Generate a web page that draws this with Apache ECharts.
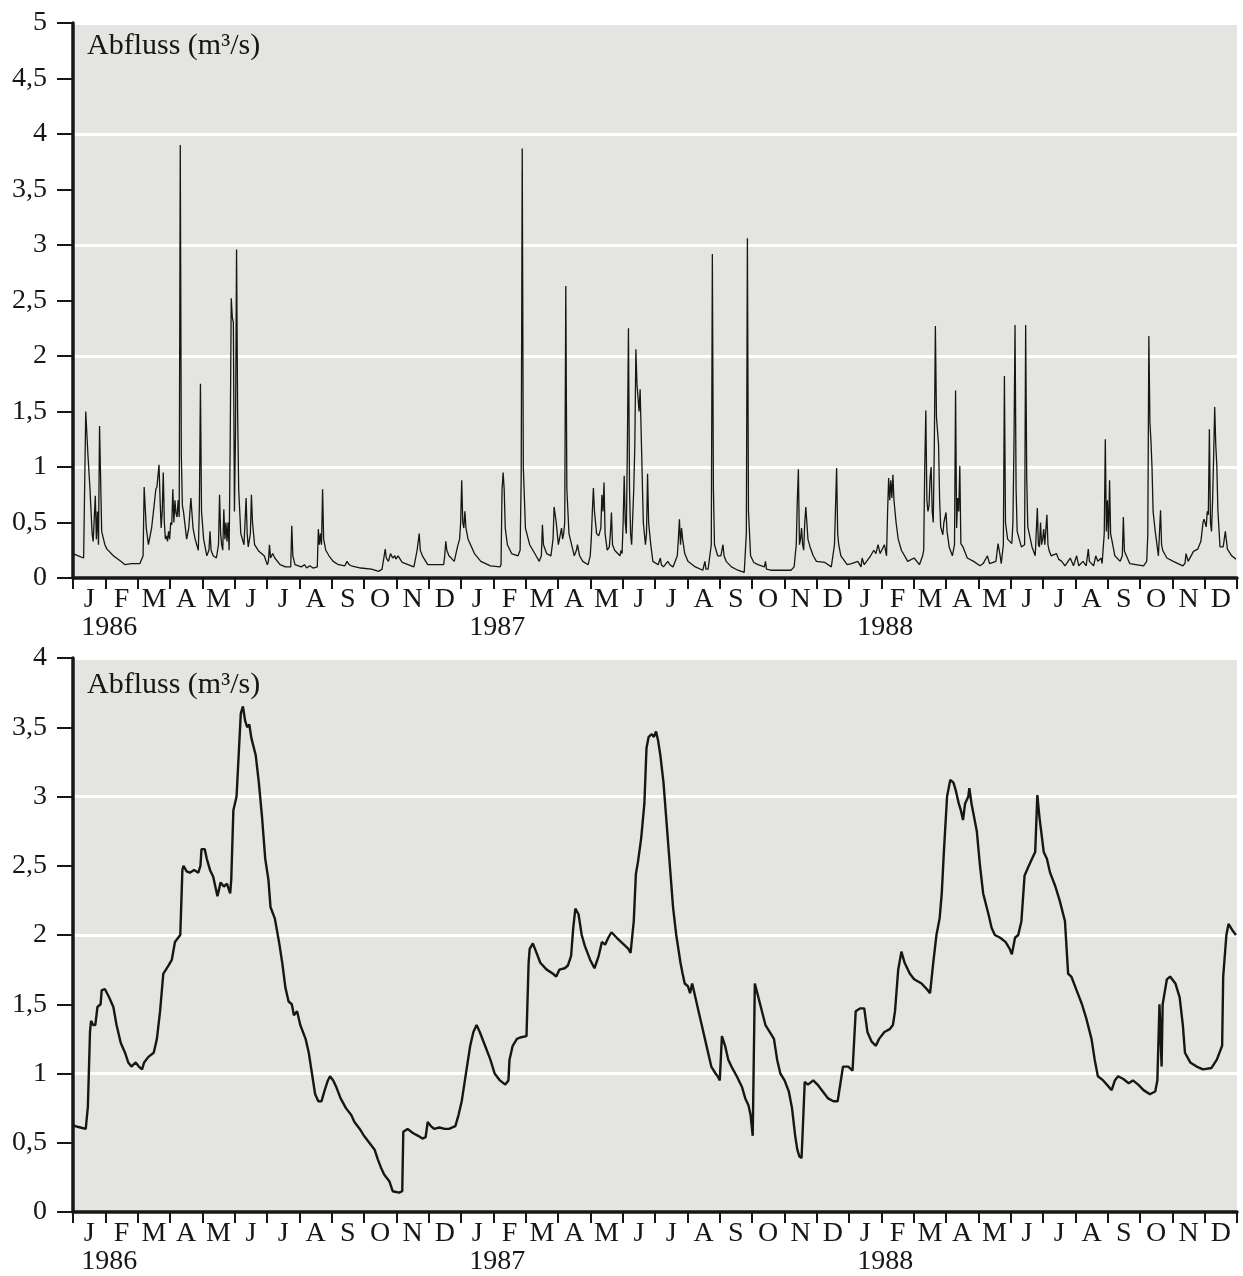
<!DOCTYPE html>
<html>
<head>
<meta charset="utf-8">
<script src="https://cdn.jsdelivr.net/npm/echarts@6/dist/echarts.min.js"></script>
<style>
html,body{margin:0;padding:0;background:#fff;}
#chart{width:1243px;height:1276px;}
</style>
</head>
<body>
<div id="chart"></div>
<script>
// Month letters (3 years), year labels, y title
const monthLetters = ['J','F','M','A','M','J','J','A','S','O','N','D',
                      'J','F','M','A','M','J','J','A','S','O','N','D',
                      'J','F','M','A','M','J','J','A','S','O','N','D'];
const yearLabels = ['1986','1987','1988'];
const yTitle = 'Abfluss (m³/s)';
const dayRange = [0, 1096]; // days since 1 Jan 1986

// Top panel: daily discharge [day since 1986-01-01, m3/s]
const dailyDischarge = [
[0,0.22],[5,0.2],[10,0.18],[11,0.19],[12,1.5],[14,1.12],[16,0.8],[18,0.4],[19,0.33],[21,0.74],[22,0.35],[23,0.6],[24,0.3],[25,1.37],[27,0.42],[30,0.3],[32,0.26],[38,0.2],[45,0.15],[49,0.12],[55,0.13],[63,0.13],[66,0.2],[67,0.82],[69,0.45],[71,0.3],[74,0.45],[76,0.62],[78,0.8],[79,0.82],[81,1.02],[82,0.7],[83,0.45],[84,0.6],[85,0.95],[86,0.5],[87,0.35],[88,0.38],[89,0.33],[90,0.42],[91,0.35],[92,0.5],[93,0.48],[94,0.8],[95,0.5],[96,0.7],[97,0.58],[98,0.55],[99,0.7],[100,0.55],[101,3.9],[102,1.1],[103,0.65],[104,0.6],[107,0.35],[109,0.45],[111,0.72],[113,0.45],[115,0.35],[118,0.25],[119,0.65],[120,1.75],[121,0.6],[123,0.35],[126,0.2],[128,0.25],[129,0.42],[130,0.25],[132,0.2],[135,0.18],[137,0.3],[138,0.75],[139,0.4],[140,0.3],[141,0.25],[142,0.62],[143,0.35],[144,0.5],[145,0.33],[146,0.5],[147,0.25],[148,1.2],[149,2.52],[150,2.35],[151,2.3],[152,0.6],[153,1.3],[154,2.96],[155,1.5],[156,0.8],[158,0.4],[161,0.3],[163,0.72],[164,0.4],[165,0.28],[167,0.4],[168,0.75],[169,0.5],[171,0.3],[175,0.24],[180,0.2],[183,0.12],[184,0.15],[185,0.3],[186,0.18],[188,0.22],[190,0.18],[195,0.12],[200,0.1],[205,0.1],[206,0.47],[207,0.2],[209,0.12],[215,0.1],[218,0.12],[220,0.09],[223,0.11],[226,0.09],[230,0.1],[231,0.44],[232,0.3],[233,0.4],[234,0.3],[235,0.8],[236,0.35],[238,0.25],[241,0.2],
[245,0.15],[250,0.12],[256,0.11],[258,0.15],[260,0.12],[262,0.11],[271,0.09],[281,0.08],[288,0.06],[291,0.08],[294,0.26],[295,0.18],[297,0.15],[299,0.22],[301,0.18],[303,0.2],[304,0.17],[306,0.2],[310,0.14],[321,0.1],[324,0.25],[326,0.4],[327,0.25],[329,0.2],[334,0.12],[349,0.12],[350,0.2],[351,0.33],[352,0.25],[354,0.2],[359,0.15],[362,0.28],[364,0.35],[365,0.5],[366,0.88],[367,0.5],[368,0.45],[369,0.6],[370,0.45],[372,0.35],[378,0.22],[384,0.15],[393,0.11],
[402,0.1],[403,0.12],[404,0.8],[405,0.95],[406,0.8],[407,0.45],[409,0.3],[413,0.22],[419,0.2],[421,0.25],[422,0.9],[423,3.87],[424,1.0],[426,0.45],[430,0.3],[436,0.2],[439,0.15],[441,0.2],[442,0.48],[443,0.3],[446,0.22],[450,0.2],[452,0.35],[453,0.64],[455,0.5],[456,0.4],[457,0.3],[458,0.35],[460,0.45],[461,0.35],[462,0.4],[463,0.5],[464,2.63],[465,0.8],[467,0.4],[472,0.2],[474,0.25],[475,0.3],[477,0.2],[480,0.15],[485,0.12],[487,0.2],[488,0.35],[489,0.6],[490,0.81],[491,0.6],[493,0.4],[495,0.38],[497,0.45],[498,0.75],[499,0.6],[500,0.86],[501,0.4],[503,0.25],[505,0.28],[506,0.4],[507,0.59],[508,0.3],[510,0.25],[515,0.2],[516,0.25],[517,0.22],[518,0.5],[519,0.92],[520,0.5],[521,0.4],[522,1.2],[523,2.25],[524,0.8],[525,0.4],[526,0.3],[527,0.3],[528,0.8],[529,1.2],[530,2.06],[531,1.75],[532,1.75],[533,1.5],[534,1.7],[535,1.3],[537,0.5],[539,0.3],[540,0.4],[541,0.94],[542,0.5],[544,0.3],[546,0.15],
[551,0.12],[553,0.18],[554,0.12],[556,0.1],[560,0.15],[562,0.12],[565,0.1],[569,0.2],[570,0.35],[571,0.53],[572,0.3],[573,0.45],[574,0.35],[576,0.22],[579,0.15],[586,0.1],[593,0.07],[595,0.15],[596,0.08],[598,0.08],
[601,0.3],[602,2.92],[603,0.8],[604,0.3],[607,0.2],[610,0.2],[612,0.3],[613,0.2],[615,0.15],[620,0.1],[626,0.07],[632,0.05],[634,0.4],[635,3.06],[636,0.6],[638,0.2],[641,0.14],[645,0.12],[651,0.1],[652,0.15],[653,0.08],[657,0.07],[676,0.07],[679,0.1],[681,0.3],[682,0.7],[683,0.98],[684,0.3],[685,0.35],[686,0.45],[687,0.3],[688,0.25],[689,0.5],[690,0.64],[692,0.35],[694,0.28],[697,0.2],[700,0.15],[708,0.14],[714,0.1],[717,0.3],[719,0.99],[720,0.4],[721,0.3],[723,0.2],[729,0.12],[733,0.13],[739,0.15],[742,0.1],[743,0.18],[745,0.12],[751,0.2],[754,0.25],[756,0.22],[758,0.3],[760,0.22],[764,0.3],[766,0.2],[767,0.6],[768,0.9],[769,0.7],[770,0.88],[771,0.72],[772,0.93],[773,0.7],[775,0.5],[777,0.35],[780,0.25],[786,0.15],[792,0.18],[797,0.12],[800,0.2],
[801,0.25],[802,1.0],[803,1.51],[804,0.7],[805,0.6],[806,0.65],[807,0.9],[808,1.0],[809,0.6],[810,0.5],[811,1.2],[812,2.27],[813,1.45],[814,1.45],[815,1.2],
[816,0.7],[817,0.46],[819,0.39],[820,0.5],[822,0.59],[823,0.42],[825,0.28],[828,0.2],[830,0.3],[831,1.69],[832,0.45],[833,0.72],[834,0.6],[835,1.01],[836,0.31],[838,0.28],[842,0.18],[848,0.15],
[854,0.11],[857,0.13],[861,0.2],[863,0.13],[869,0.15],[871,0.31],[873,0.2],[874,0.13],[876,0.3],[877,1.82],[878,0.5],[880,0.35],[884,0.31],[885,0.5],[886,1.2],[887,2.28],[888,0.8],[889,0.42],[893,0.28],[896,0.3],[897,2.28],[898,0.9],[899,0.46],[903,0.28],[906,0.2],[908,0.63],[909,0.3],[910,0.28],[911,0.5],[912,0.3],[913,0.35],[914,0.44],[915,0.3],[917,0.57],[918,0.3],[919,0.25],[921,0.2],[926,0.22],[928,0.17],[931,0.15],[934,0.11],[939,0.18],[942,0.11],[945,0.2],[947,0.11],[951,0.15],[954,0.11],[956,0.26],[957,0.15],[961,0.11],[963,0.2],[965,0.15],[968,0.18],[969,0.13],[971,0.4],[972,1.25],[973,0.42],[974,0.7],[975,0.35],[976,0.88],[977,0.4],[978,0.35],[981,0.2],[986,0.15],[988,0.2],[989,0.55],[990,0.24],[995,0.13],[1008,0.11],[1011,0.15],[1012,0.39],[1013,2.18],[1014,1.4],[1015,1.23],[1016,0.99],[1017,0.6],[1019,0.42],[1022,0.2],[1024,0.61],[1025,0.3],[1026,0.25],[1030,0.18],[1036,0.15],[1045,0.11],[1047,0.13],[1048,0.22],[1050,0.15],[1055,0.24],[1059,0.26],[1062,0.33],[1064,0.5],[1065,0.53],[1067,0.46],[1068,0.6],[1069,0.57],[1070,1.34],[1071,0.5],[1072,0.42],[1073,0.7],[1074,1.09],[1075,1.54],[1076,1.2],[1077,1.01],[1078,0.61],[1080,0.28],[1083,0.28],[1085,0.42],[1087,0.26],[1091,0.2],[1095,0.17]
];

// Bottom panel: discharge [day since 1986-01-01, m3/s]
const baseDischarge = [
[0,0.63],[2,0.62],[7,0.61],[12,0.6],[14,0.76],[16,1.3],[17,1.38],[19,1.35],[21,1.35],[23,1.48],[26,1.5],[27,1.6],[30,1.61],[34,1.55],[38,1.48],[41,1.35],[45,1.22],[49,1.15],[52,1.08],[55,1.05],[59,1.08],[62,1.05],[65,1.03],[67,1.08],[71,1.12],[76,1.15],[79,1.25],[82,1.45],[85,1.72],[90,1.78],[93,1.82],[96,1.95],[99,1.98],[101,2.0],[103,2.47],[104,2.5],[107,2.46],[110,2.45],[114,2.47],[118,2.45],[120,2.5],[121,2.62],[124,2.62],[126,2.55],[129,2.47],[132,2.42],[134,2.35],[136,2.28],[139,2.38],[142,2.35],[145,2.37],[148,2.3],[149,2.4],[151,2.9],[154,3.0],[156,3.3],[158,3.6],[160,3.65],[162,3.55],[164,3.5],[166,3.52],[168,3.42],[172,3.3],[175,3.1],[178,2.85],[181,2.55],[184,2.4],[186,2.2],[190,2.12],[194,1.95],[197,1.8],[200,1.62],[203,1.52],[206,1.5],[208,1.42],[211,1.45],[214,1.35],[219,1.25],[222,1.15],[225,1.0],[228,0.85],[231,0.8],[234,0.8],[237,0.88],[240,0.95],[242,0.98],[245,0.95],[248,0.9],[252,0.82],[257,0.75],[262,0.7],[265,0.65],[270,0.6],[274,0.55],[279,0.5],[284,0.45],[287,0.38],[290,0.32],[293,0.27],[298,0.22],[301,0.15],[307,0.14],[310,0.15],[311,0.58],[315,0.6],[320,0.57],[325,0.55],[329,0.53],[332,0.54],[334,0.65],[337,0.62],[340,0.6],[345,0.61],[350,0.6],[354,0.6],
[360,0.62],[363,0.7],[366,0.8],[369,0.95],[374,1.2],[377,1.3],[380,1.35],[383,1.3],[388,1.2],[393,1.1],[397,1.0],[402,0.95],[407,0.92],[410,0.95],[411,1.1],[414,1.2],[418,1.25],[421,1.26],[427,1.27],[429,1.8],[430,1.9],[433,1.94],[436,1.88],[440,1.8],[446,1.75],[452,1.72],[455,1.7],[458,1.75],[463,1.76],[466,1.78],[469,1.85],[471,2.05],[473,2.19],[476,2.15],[479,2.0],[482,1.92],[487,1.82],[491,1.76],[495,1.85],[498,1.95],[501,1.93],[504,1.98],[507,2.02],[512,1.98],[516,1.95],[523,1.9],[525,1.87],[528,2.1],[530,2.44],[532,2.53],[535,2.7],[538,2.95],[540,3.35],[542,3.43],[545,3.45],[547,3.43],[549,3.47],[551,3.4],[553,3.3],[556,3.1],[559,2.8],[562,2.5],[565,2.2],[568,2.0],[572,1.8],[574,1.72],[576,1.65],[579,1.63],[581,1.58],[583,1.65],[586,1.55],[589,1.45],[592,1.35],[595,1.25],[598,1.15],[601,1.05],[605,1.0],[607,0.98],[609,0.95],[611,1.27],[614,1.2],[617,1.1],[620,1.05],[625,0.98],[630,0.9],[633,0.82],[636,0.77],[638,0.7],[640,0.55],[642,1.65],[647,1.5],[652,1.35],[656,1.3],[660,1.25],[663,1.1],[666,1.0],[670,0.95],[674,0.87],[677,0.75],[680,0.55],[682,0.45],[684,0.4],[686,0.39],
[689,0.94],[692,0.92],[697,0.95],[701,0.92],[706,0.87],[711,0.82],[716,0.8],[720,0.8],[725,1.05],[730,1.05],[734,1.02],[737,1.45],[741,1.47],[745,1.47],[748,1.3],[752,1.23],[756,1.2],[759,1.25],[764,1.3],[769,1.32],[772,1.35],[774,1.45],[777,1.75],[780,1.88],[783,1.8],[788,1.72],[792,1.68],[799,1.65],[805,1.6],[807,1.58],[810,1.8],[813,2.0],[816,2.12],[818,2.3],[820,2.6],[823,3.0],[826,3.12],[829,3.1],[831,3.05],[834,2.95],[836,2.9],[838,2.83],[840,2.95],[843,3.0],[844,3.06],[846,2.95],[851,2.75],[854,2.5],[857,2.3],[862,2.15],[865,2.05],[868,2.0],[873,1.98],[878,1.95],[882,1.9],[884,1.86],[887,1.98],[890,2.0],[893,2.1],[896,2.43],[900,2.5],[903,2.55],[906,2.6],[908,3.01],[910,2.85],[914,2.6],[917,2.55],[920,2.45],[925,2.35],[929,2.25],[934,2.1],[937,1.72],[940,1.7],[945,1.6],[950,1.5],[954,1.4],[959,1.25],[962,1.1],[965,0.98],[970,0.95],[978,0.88],[981,0.95],[984,0.98],[989,0.96],[994,0.93],[998,0.95],[1003,0.92],[1008,0.88],[1014,0.85],[1019,0.87],[1021,0.95],[1023,1.5],[1025,1.05],[1026,1.5],[1030,1.68],[1033,1.7],[1038,1.65],[1042,1.55],[1045,1.35],[1047,1.15],[1052,1.08],[1058,1.05],[1064,1.03],[1072,1.04],[1077,1.1],[1082,1.2],[1083,1.7],[1086,2.0],[1088,2.08],[1092,2.03],[1095,2.0]
];

const FONT = '"Liberation Serif", "DejaVu Serif", serif';
const INK = '#161616';

function monthAxis(gridIndex) {
  return {
    gridIndex: gridIndex, type: 'category', data: monthLetters, position: 'bottom',
    boundaryGap: true,
    axisLine: { show: true, lineStyle: { color: INK, width: 3.5 } },
    axisTick: { show: true, interval: 0, length: 11, lineStyle: { color: INK, width: 2 } },
    axisLabel: {
      interval: 0, margin: 8, color: INK, fontFamily: FONT, fontSize: 28,
      formatter: function (v, i) {
        return i % 12 === 0 ? '{m|' + v + '}\n{y|' + yearLabels[i / 12] + '}' : '{m|' + v + '}';
      },
      rich: {
        m: { fontFamily: FONT, fontSize: 28, lineHeight: 28, color: INK, align: 'center' },
        y: { fontFamily: FONT, fontSize: 28, lineHeight: 28, color: INK, align: 'center', padding: [0, 0, 0, 40] }
      }
    },
    splitLine: { show: false }
  };
}
function dayAxis(gridIndex) {
  return { gridIndex: gridIndex, type: 'value', min: dayRange[0], max: dayRange[1], show: false };
}
function valueAxis(gridIndex, max) {
  return {
    gridIndex: gridIndex, type: 'value', min: 0, max: max, interval: 0.5,
    axisLine: { show: true, lineStyle: { color: INK, width: 3.5 } },
    axisTick: { show: true, length: 16, lineStyle: { color: INK, width: 2 } },
    axisLabel: {
      margin: 26, color: INK, fontFamily: FONT, fontSize: 28,
      formatter: function (v) { return String(v).replace('.', ','); }
    },
    splitLine: { show: false }
  };
}
function gridLineAxis(gridIndex, max) {
  return {
    gridIndex: gridIndex, type: 'value', min: 0, max: max, interval: 1, position: 'right',
    axisLine: { show: false }, axisTick: { show: false }, axisLabel: { show: false },
    splitLine: { show: true, lineStyle: { color: '#ffffff', width: 3 } }
  };
}

const chart = echarts.init(document.getElementById('chart'), null, { renderer: 'canvas' });
chart.setOption({
  animation: false,
  backgroundColor: '#ffffff',
  title: [
    { text: yTitle, left: 87, top: 31, padding: 0,
      textStyle: { fontFamily: FONT, fontSize: 30, fontWeight: 'normal', color: INK } },
    { text: yTitle, left: 87, top: 670, padding: 0,
      textStyle: { fontFamily: FONT, fontSize: 30, fontWeight: 'normal', color: INK } }
  ],
  grid: [
    { left: 73, right: 6, top: 23, height: 555, show: true, backgroundColor: '#e4e4e0', borderWidth: 0 },
    { left: 73, right: 6, top: 658, height: 555, show: true, backgroundColor: '#e4e4e0', borderWidth: 0 }
  ],
  xAxis: [dayAxis(0), monthAxis(0), dayAxis(1), monthAxis(1)],
  yAxis: [valueAxis(0, 5), gridLineAxis(0, 5), valueAxis(1, 4), gridLineAxis(1, 4)],
  series: [
    { type: 'line', xAxisIndex: 0, yAxisIndex: 0, data: dailyDischarge, showSymbol: false,
      lineStyle: { color: INK, width: 1.3 }, z: 3 },
    { type: 'line', xAxisIndex: 2, yAxisIndex: 2, data: baseDischarge, showSymbol: false,
      lineStyle: { color: INK, width: 2.4 }, z: 3 }
  ]
});
</script>
</body>
</html>
